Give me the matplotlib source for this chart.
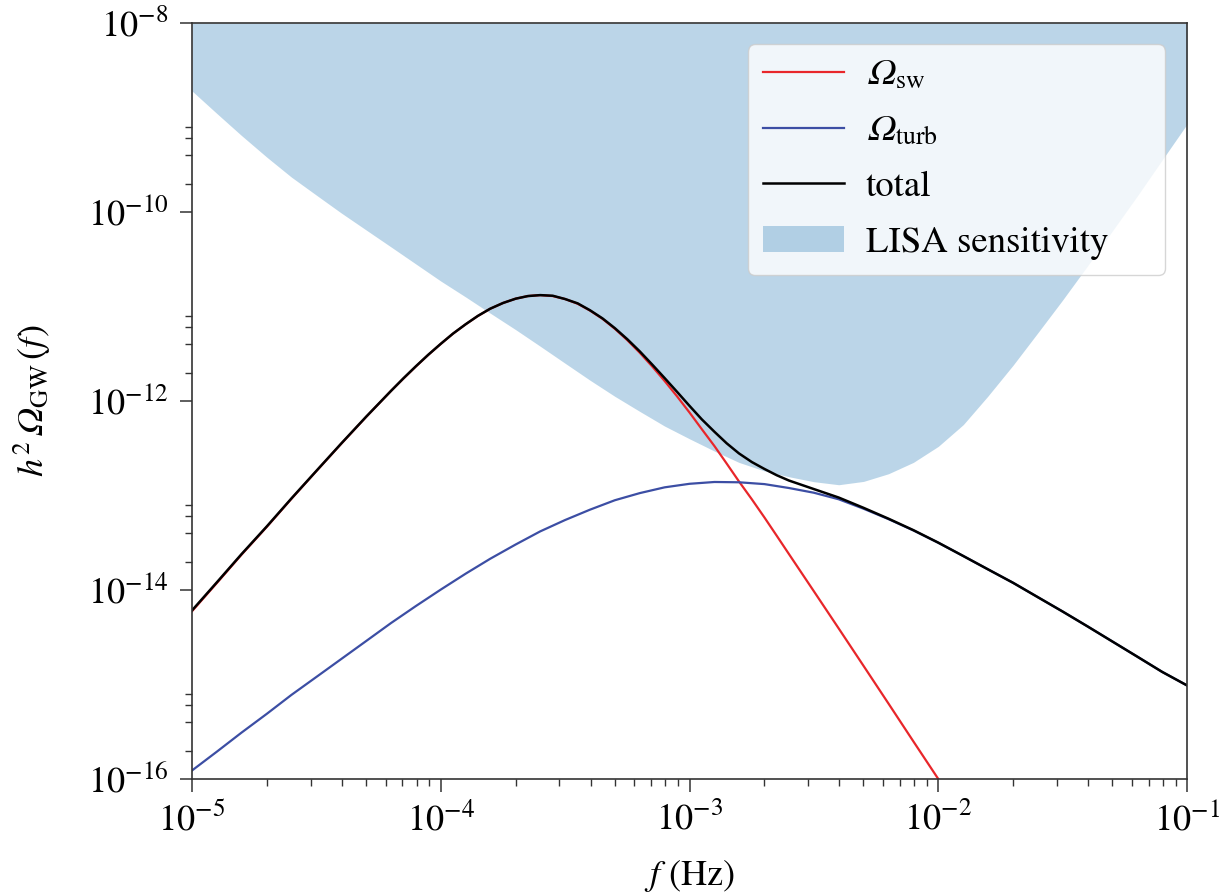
import numpy as np
import matplotlib
matplotlib.use('Agg')
import matplotlib.pyplot as plt
import matplotlib.ticker as ticker

plt.rcParams['font.family'] = ['STIXGeneral', 'DejaVu Serif']
plt.rcParams['mathtext.fontset'] = 'stix'
plt.rcParams['font.size'] = 26

# frequency grid (Hz), 0.1 decade steps from 1e-5 to 1e-1
freq = [1.00e-5, 1.26e-5, 1.58e-5, 2.00e-5, 2.51e-5, 3.16e-5, 3.98e-5, 5.01e-5, 6.31e-5, 7.94e-5,
        1.00e-4, 1.26e-4, 1.58e-4, 2.00e-4, 2.51e-4, 3.16e-4, 3.98e-4, 5.01e-4, 6.31e-4, 7.94e-4,
        1.00e-3, 1.26e-3, 1.58e-3, 2.00e-3, 2.51e-3, 3.16e-3, 3.98e-3, 5.01e-3, 6.31e-3, 7.94e-3,
        1.00e-2, 1.26e-2, 1.58e-2, 2.00e-2, 2.51e-2, 3.16e-2, 3.98e-2, 5.01e-2, 6.31e-2, 7.94e-2,
        1.00e-1]

# finer grid around the sound-wave peak (0.05 decade steps between 6.3e-5 and 2.5e-3)
freq_fine = [1.00e-5, 1.26e-5, 1.58e-5, 2.00e-5, 2.51e-5, 3.16e-5, 3.98e-5, 5.01e-5, 6.31e-5, 7.08e-5,
             7.94e-5, 8.91e-5, 1.00e-4, 1.12e-4, 1.26e-4, 1.41e-4, 1.58e-4, 1.78e-4, 2.00e-4, 2.24e-4,
             2.51e-4, 2.82e-4, 3.16e-4, 3.55e-4, 3.98e-4, 4.47e-4, 5.01e-4, 5.62e-4, 6.31e-4, 7.08e-4,
             7.94e-4, 8.91e-4, 1.00e-3, 1.12e-3, 1.26e-3, 1.41e-3, 1.58e-3, 1.78e-3, 2.00e-3, 2.24e-3,
             2.51e-3, 3.16e-3, 3.98e-3, 5.01e-3, 6.31e-3, 7.94e-3, 1.00e-2, 1.26e-2, 1.58e-2, 2.00e-2,
             2.51e-2, 3.16e-2, 3.98e-2, 5.01e-2, 6.31e-2, 7.94e-2, 1.00e-1]

# sound waves, on freq_fine up to 1e-2 where it leaves the plot
omega_sw = [5.96e-15, 1.19e-14, 2.36e-14, 4.67e-14, 9.23e-14, 1.81e-13, 3.53e-13, 6.78e-13, 1.28e-12, 1.73e-12,
            2.32e-12, 3.08e-12, 4.02e-12, 5.16e-12, 6.49e-12, 7.94e-12, 9.46e-12, 1.09e-11, 1.21e-11, 1.29e-11,
            1.32e-11, 1.29e-11, 1.20e-11, 1.07e-11, 9.06e-12, 7.40e-12, 5.81e-12, 4.41e-12, 3.24e-12, 2.32e-12,
            1.63e-12, 1.12e-12, 7.55e-13, 5.04e-13, 3.33e-13, 2.18e-13, 1.41e-13, 9.12e-14, 5.86e-14, 3.76e-14,
            2.40e-14, 9.71e-15, 3.91e-15, 1.57e-15, 6.27e-16, 2.50e-16, 1.00e-16]

# turbulence, on freq
omega_turb = [1.23e-16, 1.95e-16, 3.09e-16, 4.90e-16, 7.76e-16, 1.20e-15, 1.86e-15, 2.88e-15, 4.47e-15, 6.76e-15,
              1.01e-14, 1.49e-14, 2.14e-14, 3.03e-14, 4.17e-14, 5.50e-14, 7.08e-14, 8.91e-14, 1.06e-13, 1.22e-13,
              1.33e-13, 1.39e-13, 1.38e-13, 1.32e-13, 1.20e-13, 1.07e-13, 9.12e-14, 7.24e-14, 5.62e-14, 4.27e-14,
              3.16e-14, 2.29e-14, 1.66e-14, 1.19e-14, 8.41e-15, 5.92e-15, 4.12e-15, 2.85e-15, 1.97e-15, 1.36e-15,
              9.77e-16]

# total, on freq_fine
omega_total = [6.08e-15, 1.21e-14, 2.39e-14, 4.72e-14, 9.31e-14, 1.82e-13, 3.55e-13, 6.81e-13, 1.28e-12, 1.74e-12,
               2.33e-12, 3.09e-12, 4.03e-12, 5.17e-12, 6.50e-12, 7.96e-12, 9.48e-12, 1.09e-11, 1.21e-11, 1.29e-11,
               1.32e-11, 1.30e-11, 1.20e-11, 1.08e-11, 9.13e-12, 7.48e-12, 5.90e-12, 4.51e-12, 3.35e-12, 2.43e-12,
               1.75e-12, 1.25e-12, 8.88e-13, 6.40e-13, 4.72e-13, 3.57e-13, 2.79e-13, 2.26e-13, 1.91e-13, 1.64e-13,
               1.44e-13, 1.17e-13, 9.51e-14, 7.40e-14, 5.68e-14, 4.30e-14, 3.17e-14, 2.29e-14, 1.66e-14, 1.19e-14,
               8.41e-15, 5.92e-15, 4.12e-15, 2.85e-15, 1.97e-15, 1.36e-15, 9.77e-16]

# LISA sensitivity curve (lower edge of the shaded region), on freq
lisa_omega = [1.91e-9, 1.10e-9, 6.46e-10, 3.80e-10, 2.34e-10, 1.51e-10, 9.77e-11, 6.46e-11, 4.27e-11, 2.82e-11,
              1.86e-11, 1.26e-11, 8.51e-12, 5.69e-12, 3.80e-12, 2.51e-12, 1.66e-12, 1.12e-12, 7.76e-13, 5.43e-13,
              3.98e-13, 2.95e-13, 2.24e-13, 1.82e-13, 1.58e-13, 1.40e-13, 1.30e-13, 1.41e-13, 1.70e-13, 2.24e-13,
              3.31e-13, 5.62e-13, 1.12e-12, 2.40e-12, 5.25e-12, 1.17e-11, 2.69e-11, 6.31e-11, 1.48e-10, 3.55e-10,
              8.51e-10]

fig = plt.figure(figsize=(12.23, 8.96), dpi=100)
ax = fig.add_axes([0.157, 0.1306, 0.8136, 0.8437])

ax.plot(freq_fine[:len(omega_sw)], omega_sw, color='#e8262a', lw=1.6, label='$𝛺_{\\rm sw}$')
ax.plot(freq, omega_turb, color='#3c4ea4', lw=1.6, label='$𝛺_{\\rm turb}$')
ax.plot(freq_fine, omega_total, color='black', lw=1.8, label='total')
ax.fill_between(freq, lisa_omega, 1e-8, color='C0', alpha=0.3, lw=0, label='LISA sensitivity')

ax.set_xscale('log')
ax.set_yscale('log')
ax.set_xlim(1e-5, 1e-1)
ax.set_ylim(1e-16, 1e-8)

ax.yaxis.set_major_locator(ticker.FixedLocator([1e-16, 1e-14, 1e-12, 1e-10, 1e-8]))
ax.yaxis.set_major_formatter(ticker.LogFormatterSciNotation())
ymin = [s * 10.0 ** e for e in (-16, -14, -12, -10) for s in (2, 4, 6, 8)]
ax.yaxis.set_minor_locator(ticker.FixedLocator(ymin))
ax.yaxis.set_minor_formatter(ticker.NullFormatter())

ax.tick_params(which='major', length=9, width=1.1, pad=8, color='#333333')
ax.tick_params(which='minor', length=5, width=1.0, color='#333333')
for sp in ax.spines.values():
    sp.set_color('#333333')
    sp.set_linewidth(1.2)

ax.set_xlabel('$f$ (Hz)', labelpad=14)
ax.set_ylabel('$h^2\\,𝛺_{\\rm GW}\\,(f)$')
ax.yaxis.set_label_coords(-0.14, 0.5)

ax.legend(loc='upper left', bbox_to_anchor=(0.5588, 0.0, 0.419, 0.972), mode='expand',
          borderaxespad=0, handlelength=2.2, handletextpad=0.6, borderpad=0.4,
          labelspacing=0.6, fontsize=26.5)

fig.savefig('out.png', dpi=100)
